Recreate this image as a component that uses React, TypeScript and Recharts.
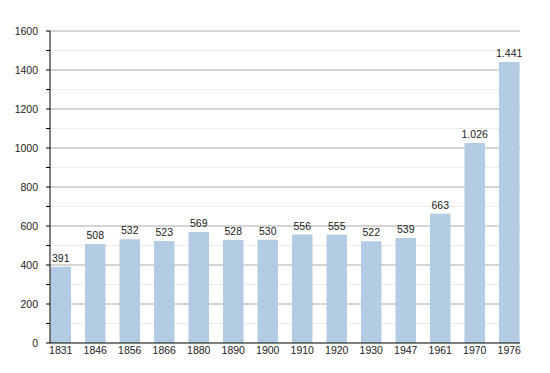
import { BarChart, Bar, XAxis, YAxis, CartesianGrid, LabelList } from "recharts"

const years = ["1831", "1846", "1856", "1866", "1880", "1890", "1900", "1910", "1920", "1930", "1947", "1961", "1970", "1976"]
const population = [391, 508, 532, 523, 569, 528, 530, 556, 555, 522, 539, 663, 1026, 1441]
const yTicks = [0, 100, 200, 300, 400, 500, 600, 700, 800, 900, 1000, 1100, 1200, 1300, 1400, 1500, 1600]
const majorLines = [200, 400, 600, 800, 1000, 1200, 1400, 1600]
const minorLines = [100, 300, 500, 700, 900, 1100, 1300, 1500]

const data = years.map((year, i) => ({ year, value: population[i] }))

const FONT = "'Liberation Sans', Arial, sans-serif"

// thousands separator is a dot in the source
const fmtValue = (v: number) => (v >= 1000 ? `${Math.floor(v / 1000)}.${String(v % 1000).padStart(3, "0")}` : String(v))

export default function App() {
  return (
    <div style={{ position: "absolute", left: 0, top: 0, background: "#fff" }}>
      <BarChart width={550} height={373} data={data} margin={{ top: 31, right: 30, bottom: 0, left: 0 }}>
        <CartesianGrid vertical={false} horizontalValues={minorLines} stroke="#ececec" />
        <CartesianGrid vertical={false} horizontalValues={majorLines} stroke="#a9a9a9" />
        <XAxis
          dataKey="year"
          height={30}
          padding={{ left: -6.5, right: -6.5 }}
          tickLine={false}
          tickSize={0}
          tickMargin={4}
          axisLine={{ stroke: "#000" }}
          tick={{ fill: "#222", fontSize: 10.5, fontFamily: FONT }}
          interval={0}
        />
        <YAxis
          width={50}
          domain={[0, 1600]}
          ticks={yTicks}
          interval={0}
          tickSize={4}
          tickMargin={8}
          tickFormatter={(v: number) => (v % 200 === 0 ? String(v) : "")}
          axisLine={{ stroke: "#000" }}
          tickLine={{ stroke: "#000" }}
          tick={{ fill: "#222", fontSize: 10.5, fontFamily: FONT }}
        />
        <Bar dataKey="value" fill="#b3cce4" barSize={20.5} isAnimationActive={false}>
          <LabelList
            dataKey="value"
            position="top"
            formatter={(v: number) => fmtValue(v)}
            style={{ fill: "#222", fontSize: 10.5, fontFamily: FONT }}
          />
        </Bar>
      </BarChart>
    </div>
  )
}
